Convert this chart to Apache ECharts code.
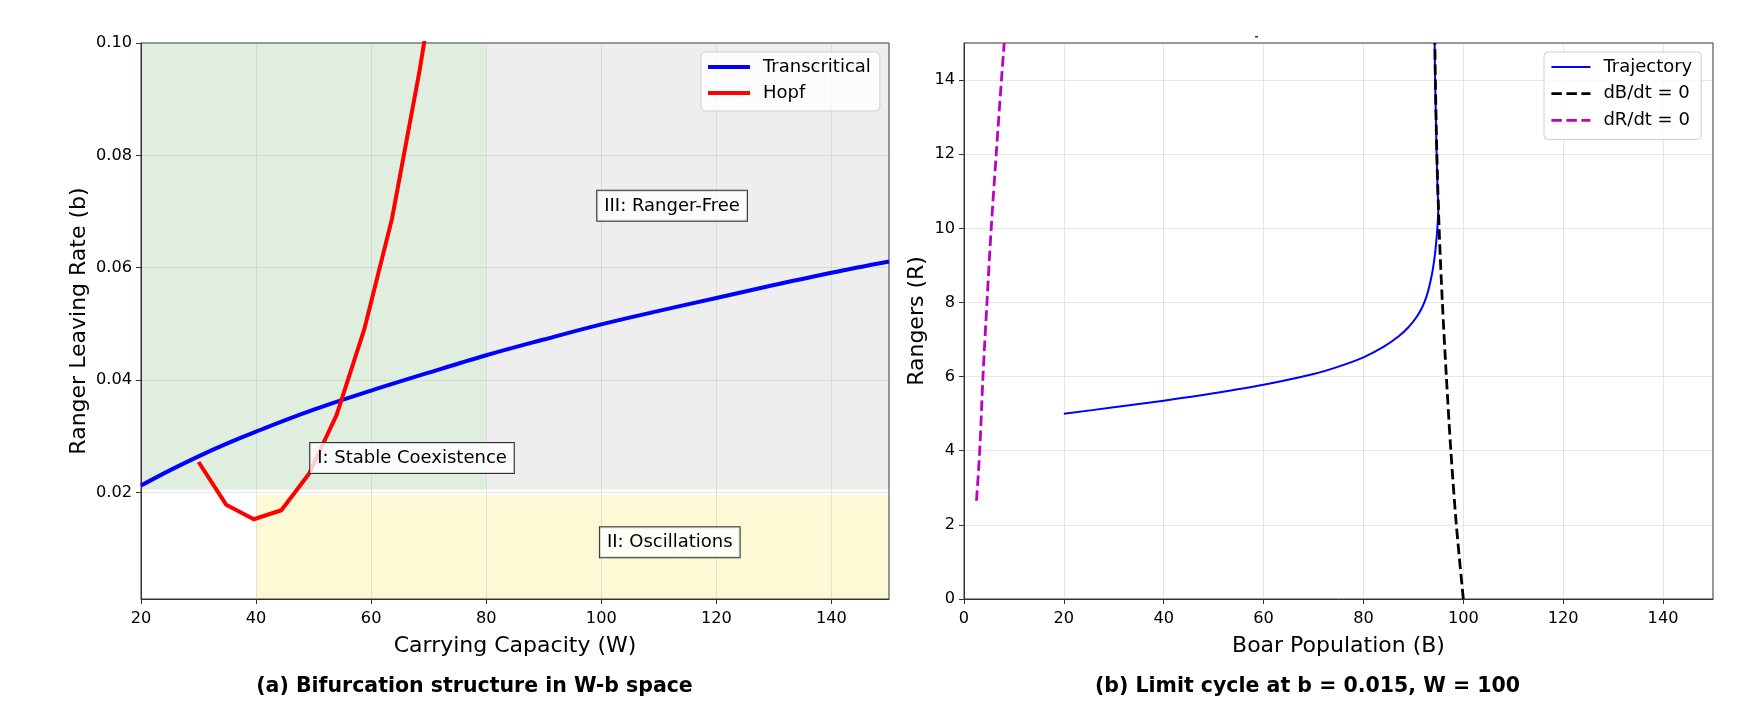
<!DOCTYPE html>
<html><head><meta charset="utf-8">
<script src="https://cdn.jsdelivr.net/npm/echarts@6/dist/echarts.min.js"></script>
<style>html,body{margin:0;padding:0;background:#fff}#c{width:1752px;height:703px}</style>
</head><body><div id="c"></div>
<script>
// ---------- data ----------
const leftXTicks = [20, 40, 60, 80, 100, 120, 140];
const leftYTicks = [0.02, 0.04, 0.06, 0.08, 0.10];
const rightXTicks = [0, 20, 40, 60, 80, 100, 120, 140];
const rightYTicks = [0, 2, 4, 6, 8, 10, 12, 14];

const transW = [20, 25, 30, 35, 40, 50, 60, 70, 80, 90, 100, 110, 120, 130, 140, 150];
const transB = [0.0212, 0.0239, 0.0264, 0.0287, 0.0308, 0.0347, 0.0381, 0.0413, 0.0444, 0.0472, 0.0499, 0.0523, 0.0546, 0.0569, 0.0591, 0.0611];

const hopfW = [30, 34.8, 39.6, 44.4, 49.2, 54.0, 58.8, 63.6, 68.4, 73.2];
const hopfB = [0.0254, 0.0178, 0.0152, 0.0168, 0.0233, 0.0338, 0.0490, 0.0686, 0.0950, 0.1250];

const trajB = [20, 30, 40, 50, 60, 70, 75, 80, 84, 87, 89, 90.5, 91.7, 92.6, 93.3, 93.9, 94.4, 94.8, 95.0, 94.85, 94.65, 94.5, 94.35, 94.25];
const trajR = [5.0, 5.17, 5.35, 5.55, 5.78, 6.07, 6.27, 6.52, 6.8, 7.08, 7.33, 7.58, 7.85, 8.15, 8.5, 8.9, 9.4, 10.0, 10.6, 11, 12, 13, 14, 15];

const dBnullB = [100, 98.6, 97.5, 96.6, 95.8, 95.15, 94.7, 94.4, 94.3];
const dBnullR = [0, 2, 4, 6, 8, 10, 12, 14, 15];

const dRnullB = [2.5, 3.15, 3.8, 4.6, 5.45, 6.45, 7.5, 8.05];
const dRnullR = [2.65, 4, 6, 8, 10, 12, 14, 15];

const regionBounds = [[20, 80, 0.0205, 0.1], [80, 150, 0.0205, 0.1], [40, 150, 0.001, 0.0195]];
const annotations = [['III: Ranger-Free', 112.3, 0.0710], ['I: Stable Coexistence', 67.1, 0.0261], ['II: Oscillations', 111.9, 0.0111]];
const legendLeft = ['Transcritical', 'Hopf'];
const legendRight = ['Trajectory', 'dB/dt = 0', 'dR/dt = 0'];
const axisNames = ['Carrying Capacity (W)', 'Ranger Leaving Rate (b)', 'Boar Population (B)', 'Rangers (R)'];
const titles = ['(a) Bifurcation structure in W-b space', '(b) Limit cycle at b = 0.015, W = 100'];

// ---------- chart ----------
const zip = (a, b) => a.map((v, i) => [v, b[i]]);
const FONT = '"DejaVu Sans", sans-serif';
const regionColors = ['#dfeede', '#eeeeee', '#fdf9d5'];
const gridCol = 'rgba(176,176,176,0.32)';
const spine = '#333';
const TICK_FS = 16.2;
const NAME_FS = 22;

function xAxis(idx, min, max, ticks, name) {
  return {
    type: 'value', gridIndex: idx, min: min, max: max,
    name: name, nameLocation: 'middle', nameGap: 36,
    nameTextStyle: {fontFamily: FONT, fontSize: NAME_FS, color: '#000'},
    axisLine: {show: true, onZero: false, lineStyle: {color: spine, width: 1}},
    axisTick: {show: true, inside: false, length: 5, customValues: ticks, lineStyle: {color: spine}},
    axisLabel: {customValues: ticks, margin: 12, fontFamily: FONT, fontSize: TICK_FS, color: '#000'},
    splitLine: {show: true, lineStyle: {color: gridCol, width: 1}}
  };
}
function yAxis(idx, min, max, ticks, name, gap, fmt) {
  return {
    type: 'value', gridIndex: idx, min: min, max: max,
    name: name, nameLocation: 'middle', nameGap: gap, nameRotate: 90,
    nameTextStyle: {fontFamily: FONT, fontSize: NAME_FS, color: '#000'},
    axisLine: {show: true, onZero: false, lineStyle: {color: spine, width: 1}},
    axisTick: {show: true, inside: false, length: 5, customValues: ticks, lineStyle: {color: spine}},
    axisLabel: {customValues: ticks, margin: 9, fontFamily: FONT, fontSize: TICK_FS, color: '#000', formatter: fmt},
    splitLine: {show: true, lineStyle: {color: gridCol, width: 1}}
  };
}

const chart = echarts.init(document.getElementById('c'), null, {renderer: 'canvas'});
const legendCommon = {
  orient: 'vertical', itemHeight: 14,
  backgroundColor: 'rgba(255,255,255,0.8)', borderColor: '#cfcfcf', borderWidth: 1, borderRadius: 4,
  itemStyle: {color: 'transparent', borderWidth: 0, opacity: 0},
  lineStyle: {width: 'inherit', type: 'inherit', color: 'inherit'},
  textStyle: {fontFamily: FONT, fontSize: 18, color: '#000', lineHeight: 20, padding: [0, 0, 0, 8]},
  selectedMode: false
};

chart.setOption({
  animation: false,
  backgroundColor: '#fff',
  grid: [
    {left: 141, top: 43, width: 748, height: 556, show: true, borderColor: spine, borderWidth: 1, backgroundColor: 'transparent'},
    {left: 964, top: 43, width: 749, height: 556, show: true, borderColor: spine, borderWidth: 1, backgroundColor: 'transparent'}
  ],
  xAxis: [
    xAxis(0, 20, 150, leftXTicks, axisNames[0]),
    xAxis(1, 0, 150, rightXTicks, axisNames[2])
  ],
  yAxis: [
    yAxis(0, 0.001, 0.1, leftYTicks, axisNames[1], 51, v => v.toFixed(2)),
    yAxis(1, 0, 15, rightYTicks, axisNames[3], 36, v => String(v))
  ],
  legend: [
    Object.assign({}, legendCommon, {data: legendLeft, left: 701, top: 52, itemWidth: 42, itemGap: 6, padding: [5, 9, 8, 5]}),
    Object.assign({}, legendCommon, {data: legendRight, left: 1544, top: 52, itemWidth: 39, itemGap: 6.7, padding: [5, 9, 9, 6]})
  ],
  series: [
    {
      type: 'custom', xAxisIndex: 0, yAxisIndex: 0, z: -1, silent: true,
      data: regionBounds.map((r, i) => [r[0], r[1], r[2], r[3], i]),
      encode: {x: [0, 1], y: [2, 3]},
      renderItem: (params, api) => {
        const p0 = api.coord([api.value(0), api.value(3)]);
        const p1 = api.coord([api.value(1), api.value(2)]);
        return {type: 'rect', shape: {x: p0[0], y: p0[1], width: p1[0] - p0[0], height: p1[1] - p0[1], r: 2},
                style: {fill: regionColors[api.value(4)]}};
      }
    },
    {name: legendLeft[0], type: 'line', xAxisIndex: 0, yAxisIndex: 0, data: zip(transW, transB), smooth: 0.35,
     symbol: 'none', color: '#0000ff', lineStyle: {width: 4, color: '#0000ff', cap: 'butt', join: 'round'}, z: 3},
    {name: legendLeft[1], type: 'line', xAxisIndex: 0, yAxisIndex: 0, data: zip(hopfW, hopfB),
     symbol: 'none', color: '#ff0000', lineStyle: {width: 4, color: '#ff0000', cap: 'butt', join: 'round'}, z: 4},
    {name: legendRight[0], type: 'line', xAxisIndex: 1, yAxisIndex: 1, data: zip(trajB, trajR), smooth: 0.3,
     symbol: 'none', color: '#0000ff', lineStyle: {width: 2, color: '#0000ff', join: 'round'}, z: 3},
    {name: legendRight[1], type: 'line', xAxisIndex: 1, yAxisIndex: 1, data: zip(dBnullB, dBnullR), smooth: 0.3,
     symbol: 'none', color: '#000000', lineStyle: {width: 2.8, color: '#000000', type: [10.5, 4.5]}, z: 4},
    {name: legendRight[2], type: 'line', xAxisIndex: 1, yAxisIndex: 1, data: zip(dRnullB, dRnullR), smooth: 0.3,
     symbol: 'none', color: '#bf00bf', lineStyle: {width: 2.8, color: '#bf00bf', type: [10.5, 4.5]}, z: 4}
  ]
});

const g = [];
annotations.forEach(a => {
  const p = chart.convertToPixel({gridIndex: 0}, [a[1], a[2]]);
  g.push({type: 'text', x: p[0], y: p[1], z: 100,
    style: {text: a[0], font: '18px ' + FONT, fill: '#000', align: 'center', verticalAlign: 'middle',
            textAlign: 'center', textVerticalAlign: 'middle',
            backgroundColor: 'rgba(255,255,255,0.8)', borderColor: '#333', borderWidth: 1, padding: [6, 7, 6, 7]}});
});
[[474.5, titles[0]], [1307.5, titles[1]]].forEach(t => {
  g.push({type: 'text', x: t[0], y: 687, z: 100,
    style: {text: t[1], font: 'bold 20.5px ' + FONT, fill: '#000', align: 'center', verticalAlign: 'middle',
            textAlign: 'center', textVerticalAlign: 'middle'}});
});
g.push({type: 'rect', shape: {x: 1255, y: 36, width: 3, height: 1.5}, style: {fill: '#333'}, z: 100});
chart.setOption({graphic: g});
</script>
</body></html>
